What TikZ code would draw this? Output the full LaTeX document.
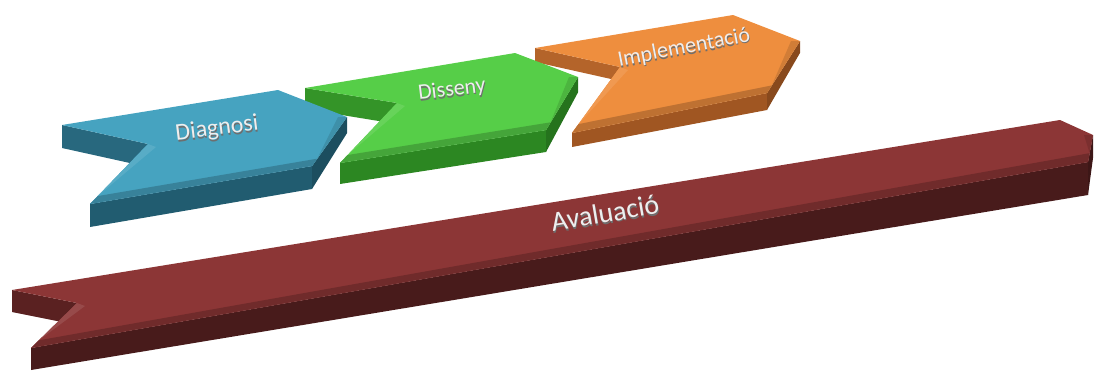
\documentclass[tikz,border=0pt]{standalone}
\usepackage{fontspec}
\setmainfont{Carlito}
\usetikzlibrary{calc}

\definecolor{diagtop}{RGB}{70,163,192}
\definecolor{diagfront}{RGB}{33,92,112}
\definecolor{diagwall}{RGB}{40,104,126}
\definecolor{distop}{RGB}{86,206,72}
\definecolor{disfront}{RGB}{44,135,34}
\definecolor{diswall}{RGB}{52,148,40}
\definecolor{impltop}{RGB}{238,142,62}
\definecolor{implfront}{RGB}{160,86,34}
\definecolor{implwall}{RGB}{180,100,42}
\definecolor{evaltop}{RGB}{140,54,54}
\definecolor{evalfront}{RGB}{72,27,27}
\definecolor{evalwall}{RGB}{90,33,33}
\definecolor{lbltext}{RGB}{238,238,238}
\definecolor{lblshade}{RGB}{110,110,110}

\newcommand\piece[6]{%
  \fill[#4] (#1-1) -- ($(#1-1)+(0,#5)$) -- ($(#1-6)+(0,#5)$) -- (#1-6) -- cycle;
  \fill[#3] (#1-5) -- (#1-4) -- ($(#1-4)+(0,#6)$) -- ($(#1-5)+(0,#5)$) -- cycle;
  \fill[#3!85!black] (#1-3) -- ($(#1-3)+(0,0.7*#6)$) -- ($(#1-4)+(0,#6)$) -- (#1-4) -- cycle;
  \fill[#2] (#1-1) -- (#1-2) -- (#1-3) -- (#1-4) -- (#1-5) -- (#1-6) -- cycle;
  \fill[#2!90!white] (#1-6) -- (#1-5) -- ($(#1-5)!11pt!(#1-6)$) -- ($(#1-6)+(8,3)$) -- cycle;
  \fill[#2!88!black] (#1-4) -- (#1-3) -- ($(#1-3)+(-9,0)$) -- ($(#1-4)!9pt!(#1-3)$) -- cycle;
  \fill[#2!80!black] (#1-5) -- (#1-4) -- ($(#1-4)!9pt!(#1-3)$) -- ($(#1-5)!11pt!(#1-6)$) -- cycle;
}
\newcommand\piecetext[6]{%
  \node[lblshade,rotate=#4,font=\fontsize{#5}{#5}\selectfont] (#1-s) at ($(#2,#3)+(0.6,1.8)$) {#6};
  \node[lbl,rotate=#4,font=\fontsize{#5}{#5}\selectfont] (#1) at (#2,#3) {#6};
}

\begin{document}
\begin{tikzpicture}[x=1pt,y=-1pt,
    lbl/.style={text=lbltext,inner sep=0pt},
    lblshade/.style={text=lblshade,inner sep=0pt}]
  \useasboundingbox (0,0) rectangle (1096,370);

  \path (535,48) coordinate (i-1) (733,15) coordinate (i-2) (800,41) coordinate (i-3)
        (767,93) coordinate (i-4) (572,133) coordinate (i-5) (620,67) coordinate (i-6);
  \path (305,88) coordinate (d-1) (515,53) coordinate (d-2) (578,77) coordinate (d-3)
        (546,130) coordinate (d-4) (340,163) coordinate (d-5) (397,103) coordinate (d-6);
  \path (62,125) coordinate (b-1) (278,90) coordinate (b-2) (347,117) coordinate (b-3)
        (312,166) coordinate (b-4) (90,204) coordinate (b-5) (148,144) coordinate (b-6);
  \path (12,290) coordinate (e-1) (1060,120) coordinate (e-2) (1093,135) coordinate (e-3)
        (1088,162) coordinate (e-4) (31,348) coordinate (e-5) (77,303) coordinate (e-6);

  \piece{i}{impltop}{implfront}{implwall}{14}{17}
  \piece{d}{distop}{disfront}{diswall}{21}{22}
  \piece{b}{diagtop}{diagfront}{diagwall}{23}{23}
  \piece{e}{evaltop}{evalfront}{evalwall}{22}{33}

  \piecetext{diag}{217}{129}{7}{24}{Diagnosi}
  \piecetext{dis}{452}{90}{7}{22}{Disseny}
  \piecetext{impl}{684}{48}{11}{22}{Implementació}
  \piecetext{eval}{605}{213}{9.5}{28}{Avaluació}
\end{tikzpicture}
\end{document}
